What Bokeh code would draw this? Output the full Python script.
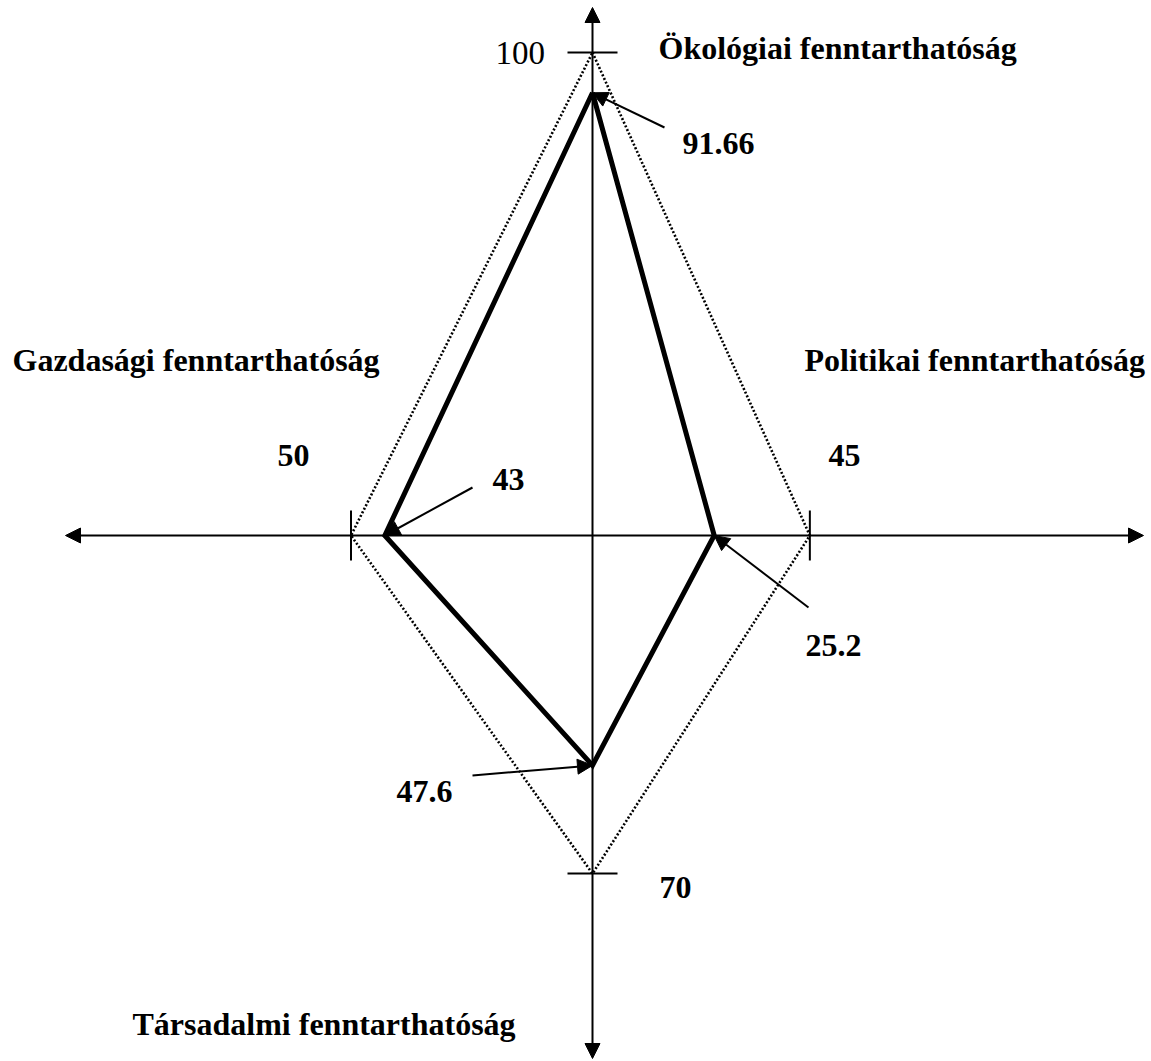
from bokeh.plotting import figure
from bokeh.models import Range1d, Arrow, NormalHead
from bokeh.embed import file_html
from bokeh.resources import INLINE
from bokeh.core.properties import value

# ---------------- data ----------------
dimensions = ["Ökológiai fenntarthatóság", "Politikai fenntarthatóság",
              "Társadalmi fenntarthatóság", "Gazdasági fenntarthatóság"]
max_values = [100, 45, 70, 50]
actual_values = [91.66, 25.2, 47.6, 43]
max_labels = ["100", "45", "70", "50"]
actual_labels = ["91.66", "25.2", "47.6", "43"]

# ---------------- layout / style ----------------
W, H = 1151, 1061
OFF = 0
CX, CY = 592, 535          # centre of the cross (page px)
S = 4.83                   # px per value unit
directions = [(0, 1), (1, 0), (0, -1), (-1, 0)]   # top, right, bottom, left

def dx(px):
    return (px - CX) / S

def dy(py):
    return (CY - py) / S

FONT = value("Liberation Serif")

p = figure(width=W, height=H, output_backend="svg", toolbar_location=None,
           x_range=Range1d(dx(OFF), dx(OFF + W)),
           y_range=Range1d(dy(OFF + H), dy(OFF)),
           x_axis_location=None, y_axis_location=None,
           min_border=0, outline_line_color=None)
p.grid.visible = False
p.background_fill_color = "white"

# axis arrows (double headed)
for (xs, ys, xe, ye) in [(dx(65), 0, dx(1143), 0), (0, dy(1058), 0, dy(7))]:
    p.add_layout(Arrow(start=NormalHead(size=15, fill_color="black", line_color="black", line_width=1),
                       end=NormalHead(size=15, fill_color="black", line_color="black", line_width=1),
                       x_start=xs, y_start=ys, x_end=xe, y_end=ye,
                       line_color="black", line_width=2))

# max polygon (dotted)
mx = [d[0] * v for d, v in zip(directions, max_values)]
my = [d[1] * v for d, v in zip(directions, max_values)]
p.line(mx + [mx[0]], my + [my[0]], line_color="black", line_width=2.6, line_dash="2 2")

# ticks at max values
half = 25 / S
tx0, ty0, tx1, ty1 = [], [], [], []
for (ux, uy), x, y in zip(directions, mx, my):
    px_, py_ = -uy, ux
    tx0.append(x - px_ * half); ty0.append(y - py_ * half)
    tx1.append(x + px_ * half); ty1.append(y + py_ * half)
p.segment(tx0, ty0, tx1, ty1, line_color="black", line_width=2)

# actual polygon (solid thick)
ax = [d[0] * v for d, v in zip(directions, actual_values)]
ay = [d[1] * v for d, v in zip(directions, actual_values)]
p.line(ax + [ax[0]], ay + [ay[0]], line_color="black", line_width=5, line_join="miter")

# pointer arrows from value labels
tails = [(664, 127), (808, 607), (472, 775), (472, 487)]
for (tx, ty), x, y in zip(tails, ax, ay):
    p.add_layout(Arrow(end=NormalHead(size=15, fill_color="black", line_color="black", line_width=1),
                       x_start=dx(tx), y_start=dy(ty), x_end=x, y_end=y,
                       line_color="black", line_width=2))

# texts
actual_pos = [(682, 143), (805, 645), (396, 791), (492, 479)]
max_pos = [(495, 52), (828, 455), (659, 887), (277, 455)]
dim_pos = [(658, 47), (804, 359), (132, 1023), (12, 359)]

p.text(x=[dx(a) for a, b in actual_pos], y=[dy(b) for a, b in actual_pos], text=actual_labels,
       text_font=FONT, text_font_style="bold", text_font_size="32px",
       text_baseline="alphabetic", text_align="left", text_color="black")
p.text(x=[dx(a) for a, b in max_pos[1:]], y=[dy(b) for a, b in max_pos[1:]], text=max_labels[1:],
       text_font=FONT, text_font_style="bold", text_font_size="32px",
       text_baseline="alphabetic", text_align="left", text_color="black")
p.text(x=[dx(max_pos[0][0])], y=[dy(max_pos[0][1])], text=max_labels[:1],
       text_font=FONT, text_font_style="normal", text_font_size="33px",
       text_baseline="alphabetic", text_align="left", text_color="black")
p.text(x=[dx(a) for a, b in dim_pos], y=[dy(b) for a, b in dim_pos], text=dimensions,
       text_font=FONT, text_font_style="bold", text_font_size="32px",
       text_baseline="alphabetic", text_align="left", text_color="black")

open("out.html", "w").write(file_html(p, INLINE))
